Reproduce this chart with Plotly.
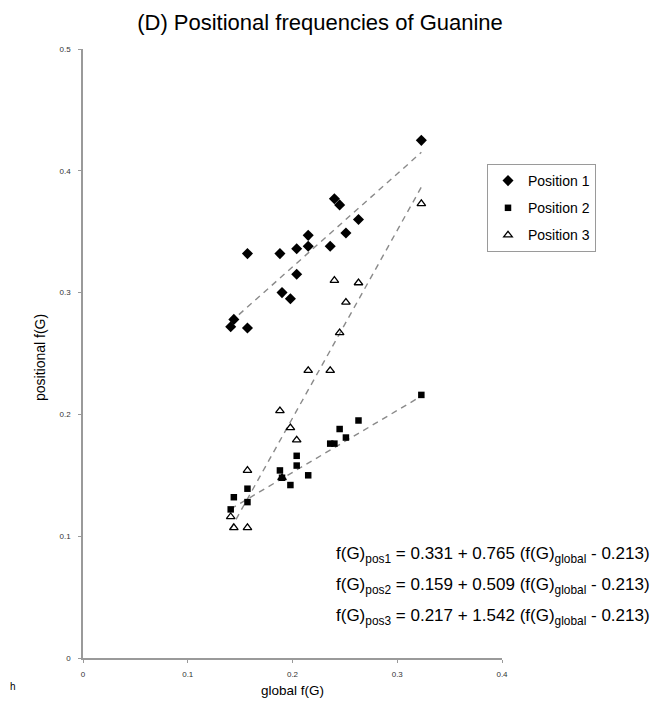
import plotly.graph_objects as go

# ---- data ----
global_f = [0.141, 0.144, 0.157, 0.157, 0.188, 0.190, 0.198, 0.204, 0.204,
            0.215, 0.215, 0.236, 0.240, 0.245, 0.251, 0.263, 0.323]
pos1 = [0.272, 0.278, 0.271, 0.332, 0.332, 0.300, 0.295, 0.336, 0.315,
        0.347, 0.338, 0.338, 0.377, 0.372, 0.349, 0.360, 0.425]
pos2 = [0.122, 0.132, 0.128, 0.139, 0.154, 0.148, 0.142, 0.158, 0.166,
        0.150, None, 0.176, 0.176, 0.188, 0.181, 0.195, 0.216]
pos3 = [0.116, 0.107, 0.154, 0.107, 0.203, 0.148, 0.189, 0.179, None,
        0.236, None, 0.236, 0.310, 0.267, 0.292, 0.308, 0.373]

series_names = ["Position 1", "Position 2", "Position 3"]
intercepts = [0.331, 0.159, 0.217]
slopes = [0.765, 0.509, 1.542]
center = 0.213
sub_names = ["pos1", "pos2", "pos3"]

x_ticks = [0, 0.1, 0.2, 0.3, 0.4]
y_ticks = [0, 0.1, 0.2, 0.3, 0.4, 0.5]

FONT = "Liberation Sans, Arial, sans-serif"

# page body has an 8px default margin; lay out in window pixels and shift
OFF = 8
W, H = 666, 703
PLOT_L, PLOT_R, PLOT_T, PLOT_B = 83, 502, 49, 658   # window pixels
L = PLOT_L - OFF
T = PLOT_T - OFF
R = W - (PLOT_R - OFF)
B = H - (PLOT_B - OFF)
pw, ph = PLOT_R - PLOT_L, PLOT_B - PLOT_T


def px_x(p):
    return (p - PLOT_L) / pw


def px_y(p):
    return (PLOT_B - p) / ph


fig = go.Figure()

# regression lines (dashed grey)
xmin, xmax = min(global_f), max(global_f)
for a, b in zip(intercepts, slopes):
    xs = [xmin, xmax]
    ys = [a + b * (v - center) for v in xs]
    fig.add_trace(go.Scatter(x=xs, y=ys, mode="lines", showlegend=False,
                             line=dict(color="#8a8a8a", width=1.4, dash="6px,5px"),
                             hoverinfo="skip"))

marker_styles = [
    dict(symbol="diamond", size=8.5, color="black"),
    dict(symbol="square", size=6.5, color="black"),
    dict(symbol="triangle-up-open", size=7.5, color="black", line=dict(color="black", width=1.3)),
]
for i, (name, ys, m) in enumerate(zip(series_names, [pos1, pos2, pos3], marker_styles)):
    fig.add_trace(go.Scatter(x=global_f, y=ys, mode="markers", name=name,
                             marker=m, legendgroup=f"g{i}", cliponaxis=False))

annotations = []
for k, (a, b, s) in enumerate(zip(intercepts, slopes, sub_names)):
    txt = f"f(G)<sub>{s}</sub> = {a:.3f} + {b:.3f} (f(G)<sub>global</sub> - {center:.3f})"
    annotations.append(dict(text=txt, xref="paper", yref="paper",
                            x=px_x(652), y=px_y(555 + 31 * k),
                            xanchor="right", yanchor="middle", showarrow=False,
                            font=dict(family=FONT, size=17, color="black")))

annotations.append(dict(text="positional f(G)", xref="paper", yref="paper",
                        x=px_x(40), y=px_y(358), textangle=-90,
                        xanchor="center", yanchor="middle", showarrow=False,
                        font=dict(family=FONT, size=14, color="black")))
annotations.append(dict(text="global f(G)", xref="paper", yref="paper",
                        x=px_x(292), y=px_y(690),
                        xanchor="center", yanchor="middle", showarrow=False,
                        font=dict(family=FONT, size=13.5, color="black")))
annotations.append(dict(text="h", xref="paper", yref="paper",
                        x=px_x(13), y=px_y(686),
                        xanchor="center", yanchor="middle", showarrow=False,
                        font=dict(family=FONT, size=10, color="black")))

axis_common = dict(showgrid=False, zeroline=False, showline=True,
                   linecolor="#9a9a9a", linewidth=1.5, ticks="outside",
                   ticklen=3, tickcolor="#9a9a9a",
                   tickfont=dict(family=FONT, size=8, color="#333"))

fig.update_layout(
    width=W, height=H,
    margin=dict(l=L, r=R, t=T, b=B, autoexpand=False),
    paper_bgcolor="white", plot_bgcolor="white",
    title=dict(text="(D) Positional frequencies of Guanine",
               x=(320 - OFF) / W, y=1 - (22 - OFF) / H,
               xanchor="center", yanchor="middle",
               font=dict(family=FONT, size=22, color="black")),
    xaxis=dict(range=[0, 0.4], tickvals=x_ticks, ticklabelstandoff=5, **axis_common),
    yaxis=dict(range=[0, 0.5], tickvals=y_ticks, ticklabelstandoff=6, **axis_common),
    legend=dict(x=px_x(487), y=px_y(164), xanchor="left", yanchor="top",
                bordercolor="#9a9a9a", borderwidth=1, bgcolor="white",
                tracegroupgap=6,
                font=dict(family=FONT, size=14, color="black")),
    annotations=annotations,
    showlegend=True,
)

fig.write_html("out.html")
